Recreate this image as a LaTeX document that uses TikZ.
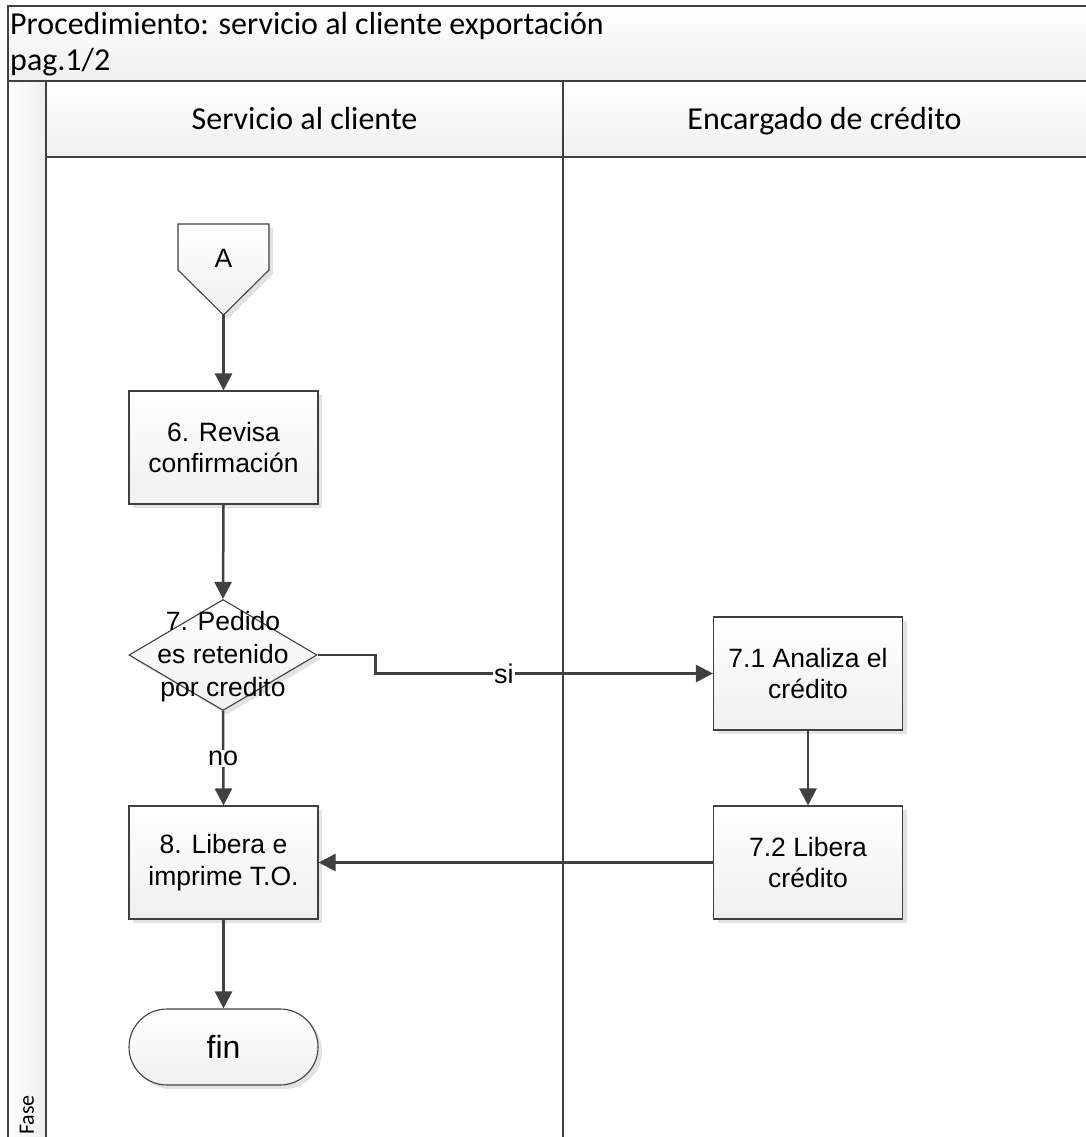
\documentclass[tikz,border=0pt]{standalone}
\usepackage{fontspec}
\setmainfont{Liberation Sans}
\newfontfamily\calfont{Carlito}
\usetikzlibrary{shapes.geometric,shapes.misc,shadows,arrows.meta}
\definecolor{lc}{HTML}{404040}
\definecolor{shd}{HTML}{E2E2E2}
\begin{document}
\begin{tikzpicture}[x=1pt,y=-1pt,
  poolline/.style={draw=lc, line width=2pt},
  shapebase/.style={draw=lc, line width=1.1pt, top color=white, bottom color=gray!12,
    drop shadow={shadow xshift=4pt, shadow yshift=-4pt, fill=shd, opacity=1}},
  procbox/.style={shapebase, rectangle, minimum width=189pt, minimum height=113pt,
    inner sep=0pt, align=center, font=\fontsize{26.5}{31.5}\selectfont},
  decision/.style={shapebase, diamond, minimum width=188pt, minimum height=111pt,
    aspect=1.69, inner sep=0pt},
  terminal/.style={shapebase, rounded rectangle, minimum width=189pt, minimum height=76pt,
    inner sep=0pt, font=\fontsize{32}{36}\selectfont},
  arr/.style={draw=lc, line width=2.5pt, -{Triangle[length=17pt,width=17pt]}},
  lbl/.style={fill=white, inner sep=1pt, font=\fontsize{27}{30}\selectfont},
  headtxt/.style={font=\calfont\fontsize{32}{36}\selectfont, inner sep=0pt}
]
\useasboundingbox (0,0) rectangle (1086,1137);
\fill[white] (0,0) rectangle (1086,1137);
% pool bands
\shade[top color=white, bottom color=gray!12] (8,6) rectangle (1092,81);
\shade[top color=white, bottom color=gray!12] (46,81) rectangle (1092,157);
\shade[left color=white, right color=gray!14] (8,81) rectangle (46,1142);
% pool lines
\draw[poolline] (8,1142) -- (8,6) -- (1092,6);
\draw[poolline] (8,81) -- (1092,81);
\draw[poolline] (46,81) -- (46,1142);
\draw[poolline] (46,157) -- (1092,157);
\draw[poolline] (563,81) -- (563,1142);
% texts of pool
\node[headtxt, anchor=base west] (title1) at (10,35) {Procedimiento: servicio al cliente exportación};
\node[headtxt, anchor=base west] (title2) at (10,71) {pag.1/2};
\node[headtxt, anchor=base] (lane1) at (304.5,130) {Servicio al cliente};
\node[headtxt, anchor=base] (lane2) at (824.5,130) {Encargado de crédito};
\node[rotate=90, font=\calfont\fontsize{22}{24}\selectfont] (fase) at (27,1115) {Fase};
% off-page connector A
\path[shapebase] (178,224) -- (269,224) -- (269,270) -- (223.5,315) -- (178,270) -- cycle;
\node[font=\fontsize{26.5}{30}\selectfont] (A) at (223.5,258) {A};
\coordinate (Atip) at (223.5,315);
% shapes
\node[procbox] (b6) at (223.5,447.5) {6. Revisa\\confirmación};
\node[decision] (d7) at (223,655) {};
\node[font=\fontsize{26.5}{33}\selectfont, align=center] (d7t) at (223,657) {7. Pedido\\es retenido\\por credito};
\node[procbox] (b71) at (808,673.5) {7.1 Analiza el\\crédito};
\node[procbox] (b72) at (808,862.5) {7.2 Libera\\crédito};
\node[procbox] (b8) at (223.5,862.5) {8. Libera e\\imprime T.O.};
\node[terminal] (fin) at (223.5,1047) {fin};
% connectors
\draw[arr] (Atip) -- (b6.north);
\draw[arr] (b6.south) -- (d7.north);
\draw[arr] (d7.east) -- ++(58,0) |- node[pos=0.69, lbl] (si) {si} (b71.west);
\draw[arr] (d7.south) -- node[lbl] (no) {no} (b8.north);
\draw[arr] (b71.south) -- (b72.north);
\draw[arr] (b72.west) -- (b8.east);
\draw[arr] (b8.south) -- (fin.north);
\end{tikzpicture}
\end{document}
